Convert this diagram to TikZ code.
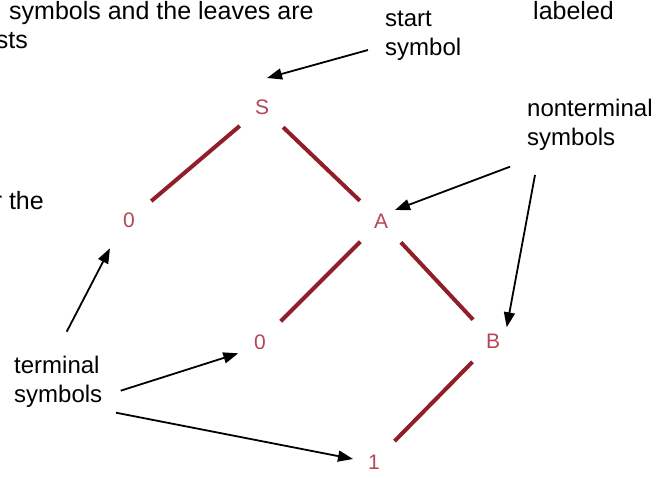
\documentclass[tikz,border=0pt]{standalone}
\usepackage{fontspec}
\setmainfont{Liberation Sans}
\usetikzlibrary{arrows.meta}
\definecolor{treered}{RGB}{145,30,40}
\definecolor{symred}{RGB}{180,70,85}

\begin{document}
\begin{tikzpicture}[
    x=1pt, y=-1pt,
    sym/.style={circle, minimum size=58pt, inner sep=0pt, text=symred, font=\fontsize{21}{21}\selectfont},
    note/.style={align=left, inner sep=0pt, anchor=base west, font=\fontsize{24}{29}\selectfont},
    slide/.style={inner sep=0pt, font=\fontsize{25}{30}\selectfont},
    branch/.style={draw=treered, line width=4pt},
    pointer/.style={->, line width=1.8pt},
    >={Triangle[length=15pt, width=11pt]}
]
    \useasboundingbox (0,0) rectangle (663,478);

    % cut-off slide text
    \node[slide, anchor=base west] (slide1) at (9,19.5) {symbols and the leaves are};
    \node[slide, anchor=base east] (slide2) at (28,49) {sts};
    \node[slide, anchor=base west] (slide3) at (533,19.5) {labeled};
    \node[slide, anchor=base east] (slide4) at (44,210) {r the};

    % parse tree
    \node[sym] (s)   at (262,107) {S};
    \node[sym] (zl)  at (129,220) {0};
    \node[sym] (a)   at (381,221) {A};
    \node[sym] (zm)  at (260,342) {0};
    \node[sym] (b)   at (493,341) {B};
    \node[sym] (one) at (374,462) {1};

    \draw[branch] (s) -- (zl);
    \draw[branch] (s) -- (a);
    \draw[branch] (a) -- (zm);
    \draw[branch] (a) -- (b);
    \draw[branch] (b) -- (one);

    % labels (base = last line)
    \node[note] (start) at (385,56) {start\\symbol};
    \node[note] (nonterm) at (527,145.7) {nonterminal\\symbols};
    \node[note] (term) at (14,402) {terminal\\symbols};

    % pointers
    \coordinate (p1) at (368,50);    \coordinate (q1) at (267,78);
    \coordinate (p2) at (510,166.7); \coordinate (q2) at (395,210);
    \coordinate (p3) at (535,175);   \coordinate (q3) at (506.7,327.3);
    \coordinate (p4) at (66.7,331.7);\coordinate (q4) at (110,248.3);
    \coordinate (p5) at (120.7,390.7);\coordinate (q5) at (238.3,353.3);
    \coordinate (p6) at (116,412.7); \coordinate (q6) at (353,459);

    \draw[pointer] (p1) -- (q1);
    \draw[pointer] (p2) -- (q2);
    \draw[pointer] (p3) -- (q3);
    \draw[pointer] (p4) -- (q4);
    \draw[pointer] (p5) -- (q5);
    \draw[pointer] (p6) -- (q6);
\end{tikzpicture}
\end{document}
